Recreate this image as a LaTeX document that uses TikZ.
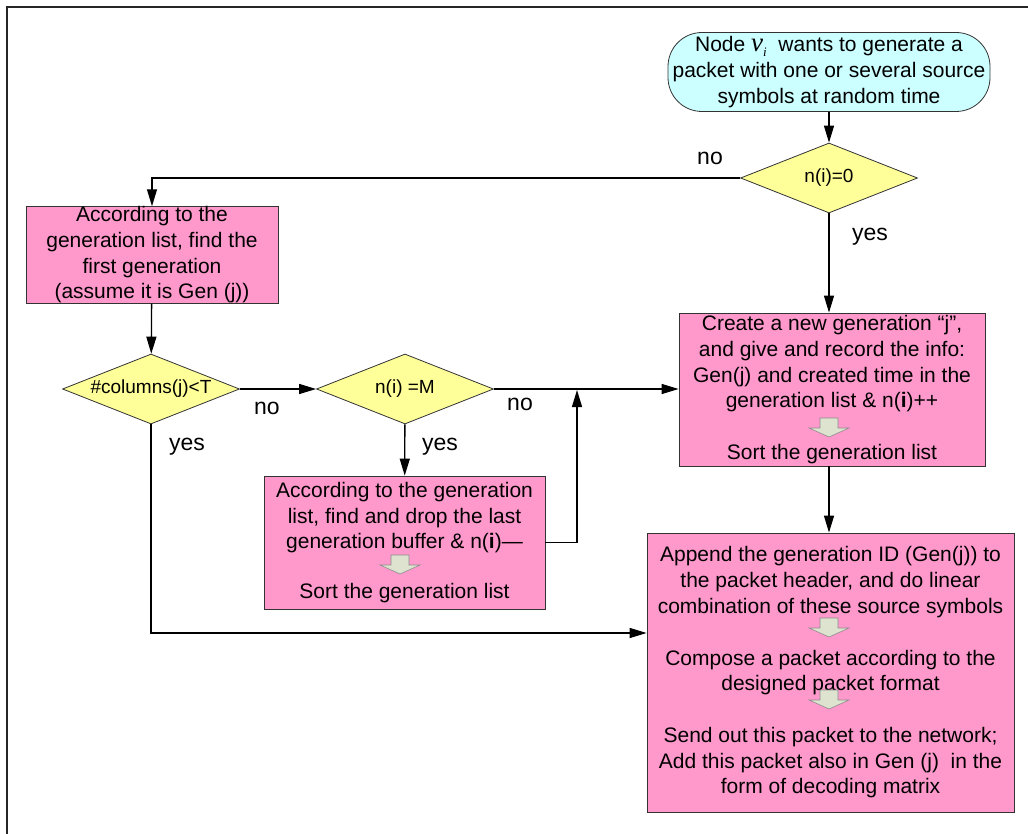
\documentclass[tikz,border=0pt]{standalone}
\usepackage{fontspec}
\setmainfont{Liberation Sans}
\newfontfamily\serifitalic{Liberation Serif}
\usetikzlibrary{shapes.geometric, arrows.meta}

\definecolor{boxpink}{HTML}{FF99CC}
\definecolor{startcyan}{HTML}{CCFFFF}
\definecolor{askyellow}{HTML}{FFFF99}
\definecolor{hintgreen}{HTML}{DDE3CF}

\newcommand{\blockdown}[1]{%
  \draw [hint] (#1) ++(-9, 0) -- ++(18, 0) -- ++(0, 10) -- ++(11, 0)
    -- ++(-20, 9) -- ++(-20, -9) -- ++(11, 0) -- cycle;}
\newcommand{\vnode}{{\serifitalic\itshape\fontsize{27}{27}\selectfont v}%
  \raisebox{-5pt}{\serifitalic\itshape\fontsize{13}{13}\selectfont i}}

\begin{document}
\begin{tikzpicture}[x = 1pt, y = -1pt,
    every node/.style = {font = \fontsize{21}{25.7}\selectfont, align = center, inner sep = 0pt},
    task/.style = {draw = black!80, fill = boxpink, line width = 0.8pt},
    ask/.style = {diamond, aspect = 2.5, draw = black!80, fill = askyellow, line width = 0.8pt,
      font = \fontsize{19}{23}\selectfont, minimum width = 177pt, minimum height = 70pt},
    answer/.style = {font = \fontsize{23}{27}\selectfont},
    line/.style = {draw = black, line width = 1.3pt, -{Triangle[length = 17pt, width = 10pt]}},
    hint/.style = {draw = black!45, fill = hintgreen, line width = 0.6pt},
    frame/.style = {draw = black!85, line width = 1.6pt}]
    \useasboundingbox (0, 0) rectangle (1028, 834);

    \draw [frame] (7, 834) -- (7, 7) -- (1028, 7);

    \node [draw = black!80, fill = startcyan, line width = 0.8pt, rounded corners = 34pt,
      minimum width = 322pt, minimum height = 79pt] (start) at (829, 72)
      {Node \vnode\ \ wants to generate a\\ packet with one or several source\\ symbols at random time};
    \node [ask] (zero) at (829, 178) {n(i)=0};
    \node [task, minimum width = 252pt, minimum height = 96pt] (first) at (152, 255)
      {According to the\\ generation list, find the\\ first generation\\ (assume it is Gen (j))};
    \node [ask] (cols) at (151, 389) {\#columns(j)<T};
    \node [ask] (full) at (405, 389) {n(i) =M};
    \node [task, minimum width = 306pt, minimum height = 153pt] (create) at (832, 389.5)
      {Create a new generation “j”,\\ and give and record the info:\\ Gen(j) and created time in the\\
       generation list \& n(\textbf{i})++\\[25.7pt] Sort the generation list};
    \node [task, minimum width = 281pt, minimum height = 133pt] (drop) at (404.5, 542.5)
      {According to the generation\\ list, find and drop the last\\ generation buffer \& n(\textbf{i})---\\[24pt]
       Sort the generation list};
    \node [task, minimum width = 367pt, minimum height = 279pt] (append) at (830.5, 672.5)
      {Append the generation ID (Gen(j)) to\\ the packet header, and do linear\\
       combination of these source symbols\\[26pt] Compose a packet according to the\\
       designed packet format\\[26pt] Send out this packet to the network;\\
       Add this packet also in Gen (j)\ \ in the\\ form of decoding matrix};

    \node [answer] (no1) at (710, 158) {no};
    \node [answer] (yes1) at (870, 237) {yes};
    \node [answer] (no2) at (267, 408) {no};
    \node [answer] (yes2) at (187, 447) {yes};
    \node [answer] (yes3) at (440, 447) {yes};
    \node [answer] (no3) at (520, 404) {no};

    \coordinate (up) at (577, 390);
    \coordinate (low) at (151, 633);

    \draw [line] (start) -- (zero);
    \draw [line] (zero.west) -| (first.north);
    \draw [line] (zero.south) -- (zero.south |- create.north);
    \draw [line] (first) -- (cols);
    \draw [line] (cols) -- (full);
    \draw [line] (full) -- (drop);
    \draw [line] (full.east) -- (full.east -| create.west);
    \draw [line] (drop.east) -| (up);
    \draw [line] (cols.south) -- (low) -- (low -| append.west);
    \draw [line] (create.south -| zero.south) -- (zero.south |- append.north);

    \blockdown{829, 418}
    \blockdown{400, 555}
    \blockdown{829, 618}
    \blockdown{829, 690}
  \end{tikzpicture}
\end{document}
